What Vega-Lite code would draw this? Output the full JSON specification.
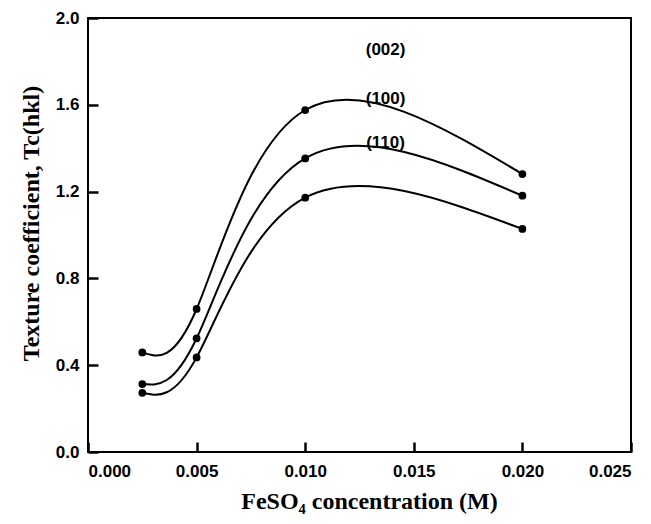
{
  "$schema": "https://vega.github.io/schema/vega-lite/v6.json",
  "autosize": "none",
  "width": 543,
  "height": 434,
  "padding": {"left": 88, "top": 18, "right": 20, "bottom": 72},
  "background": "white",
  "config": {
    "view": {"stroke": "black", "strokeWidth": 2},
    "axis": {
      "domain": false,
      "grid": false,
      "ticks": true,
      "tickWidth": 2.5,
      "zindex": 1,
      "labelFont": "Liberation Sans",
      "labelFontWeight": "bold",
      "labelFontSize": 17,
      "labelColor": "black",
      "titleFont": "Liberation Serif",
      "titleFontWeight": "bold",
      "titleFontSize": 24,
      "titleColor": "black"
    }
  },
  "data": {
    "values": [
      {"c": 0.0025, "tc": 0.459, "plane": "(002)"},
      {"c": 0.005, "tc": 0.659, "plane": "(002)"},
      {"c": 0.01, "tc": 1.576, "plane": "(002)"},
      {"c": 0.02, "tc": 1.281, "plane": "(002)"},
      {"c": 0.0025, "tc": 0.313, "plane": "(100)"},
      {"c": 0.005, "tc": 0.524, "plane": "(100)"},
      {"c": 0.01, "tc": 1.353, "plane": "(100)"},
      {"c": 0.02, "tc": 1.181, "plane": "(100)"},
      {"c": 0.0025, "tc": 0.273, "plane": "(110)"},
      {"c": 0.005, "tc": 0.436, "plane": "(110)"},
      {"c": 0.01, "tc": 1.172, "plane": "(110)"},
      {"c": 0.02, "tc": 1.028, "plane": "(110)"}
    ]
  },
  "layer": [
    {
      "mark": {"type": "line", "interpolate": "natural", "color": "black", "strokeWidth": 2},
      "encoding": {
        "x": {"field": "c", "type": "quantitative", "scale": {"domain": [0, 0.025], "nice": false},
          "axis": {"values": [0, 0.005, 0.01, 0.015, 0.02, 0.025], "format": ".3f", "tickSize": 10, "offset": -10, "tickColor": "black", "labelPadding": 11, "title": "FeSO₄ concentration (M)", "titlePadding": 10, "titleX": 281}},
        "y": {"field": "tc", "type": "quantitative", "scale": {"domain": [0, 2], "nice": false},
          "axis": {"values": [0, 0.4, 0.8, 1.2, 1.6, 2.0], "format": ".1f", "tickSize": 10, "offset": -10, "tickColor": "black", "labelPadding": 9, "title": "Texture coefficient, Tc(hkl)", "titlePadding": 12, "titleY": 205}},
        "detail": {"field": "plane", "type": "nominal"}
      }
    },
    {
      "mark": {"type": "point", "filled": true, "color": "black", "size": 60, "opacity": 1},
      "encoding": {
        "x": {"field": "c", "type": "quantitative"},
        "y": {"field": "tc", "type": "quantitative"}
      }
    },
    {
      "data": {
        "values": [
          {"c": 0.0137, "tc": 1.853, "label": "(002)"},
          {"c": 0.0137, "tc": 1.629, "label": "(100)"},
          {"c": 0.0137, "tc": 1.424, "label": "(110)"}
        ]
      },
      "mark": {"type": "text", "font": "Liberation Sans", "fontWeight": "bold", "fontSize": 17, "color": "black"},
      "encoding": {
        "x": {"field": "c", "type": "quantitative"},
        "y": {"field": "tc", "type": "quantitative"},
        "text": {"field": "label"}
      }
    }
  ]
}
